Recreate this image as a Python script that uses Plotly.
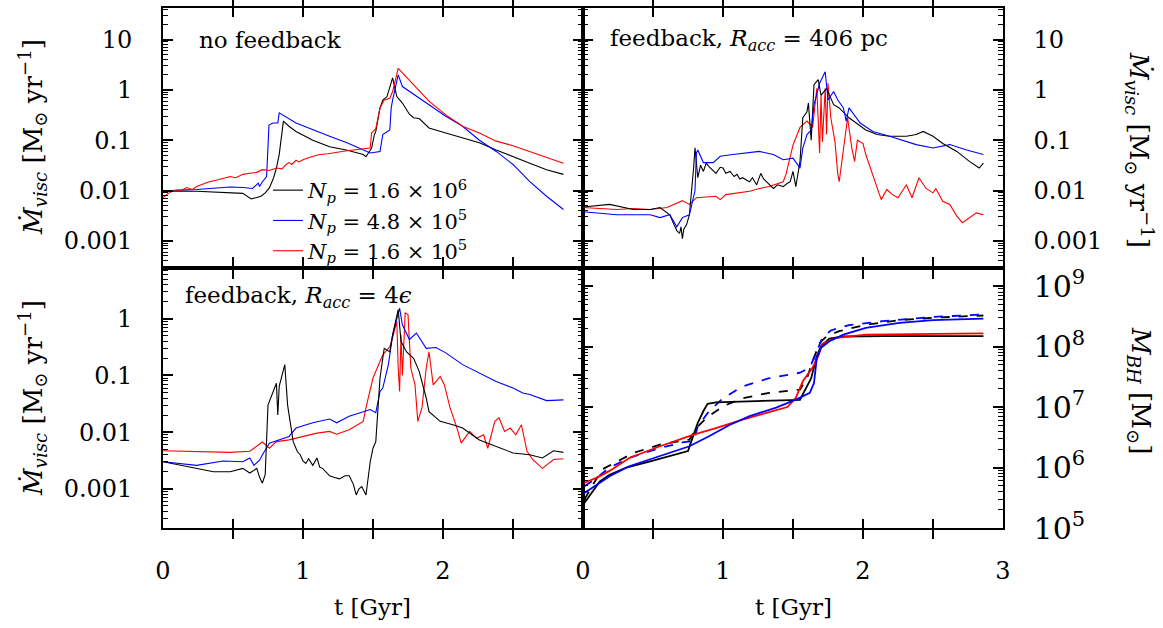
import plotly.graph_objects as go

# ---------------- Panel A: no feedback ----------------
tA_k = [0.0, 0.1, 0.24, 0.38, 0.48, 0.57, 0.63, 0.66, 0.7, 0.73, 0.76, 0.79, 0.81, 0.83, 0.86, 0.9, 0.95, 1.07, 1.19, 1.31, 1.43, 1.45, 1.49, 1.51, 1.52, 1.55, 1.57, 1.6, 1.64, 1.67, 1.71, 1.76, 1.79, 1.83, 1.9, 2.02, 2.14, 2.26, 2.38, 2.5, 2.62, 2.74, 2.86]
vA_k = [0.0095, 0.0098, 0.0097, 0.0092, 0.0089, 0.0088, 0.0068, 0.0072, 0.0077, 0.009, 0.0113, 0.018, 0.028, 0.052, 0.24, 0.19, 0.15, 0.1, 0.074, 0.064, 0.052, 0.047, 0.07, 0.129, 0.15, 0.44, 0.63, 0.74, 1.74, 0.74, 0.55, 0.33, 0.28, 0.27, 0.176, 0.14, 0.111, 0.089, 0.064, 0.048, 0.035, 0.026, 0.021]

tA_b = [0.0, 0.1, 0.24, 0.36, 0.48, 0.57, 0.64, 0.68, 0.69, 0.71, 0.74, 0.757, 0.786, 0.82, 0.825, 0.83, 0.95, 1.07, 1.19, 1.31, 1.43, 1.48, 1.55, 1.57, 1.62, 1.63, 1.64, 1.68, 1.71, 1.81, 1.9, 2.02, 2.14, 2.26, 2.38, 2.5, 2.62, 2.74, 2.86]
vA_b = [0.0095, 0.0102, 0.0105, 0.0112, 0.0118, 0.0115, 0.011, 0.014, 0.012, 0.015, 0.019, 0.2, 0.22, 0.22, 0.35, 0.35, 0.22, 0.16, 0.12, 0.09, 0.064, 0.056, 0.06, 0.13, 0.16, 0.44, 0.63, 2.0, 1.17, 0.74, 0.51, 0.3, 0.19, 0.1, 0.06, 0.033, 0.015, 0.0077, 0.0042]

tA_r = [0.0, 0.03, 0.07, 0.12, 0.17, 0.21, 0.24, 0.29, 0.33, 0.38, 0.43, 0.48, 0.52, 0.57, 0.62, 0.67, 0.71, 0.76, 0.81, 0.85, 0.88, 0.9, 0.92, 0.95, 0.97, 1.0, 1.05, 1.12, 1.18, 1.24, 1.3, 1.36, 1.42, 1.48, 1.49, 1.52, 1.55, 1.58, 1.62, 1.64, 1.68, 1.79, 1.9, 2.02, 2.14, 2.26, 2.38, 2.5, 2.62, 2.74, 2.86]
vA_r = [0.0072, 0.0085, 0.010, 0.0098, 0.0115, 0.0105, 0.012, 0.0135, 0.015, 0.016, 0.0175, 0.019, 0.018, 0.021, 0.022, 0.023, 0.026, 0.025, 0.028, 0.027, 0.033, 0.036, 0.033, 0.040, 0.037, 0.041, 0.046, 0.052, 0.054, 0.058, 0.061, 0.064, 0.067, 0.070, 0.14, 0.17, 0.44, 0.63, 0.68, 0.93, 2.7, 1.25, 0.6, 0.32, 0.19, 0.14, 0.096, 0.078, 0.06, 0.046, 0.035]

# ---------------- Panel B: feedback, R_acc = 406 pc ----------------
tB_k = [0.0, 0.19, 0.36, 0.48, 0.55, 0.62, 0.65, 0.67, 0.69, 0.7, 0.71, 0.72, 0.74, 0.76, 0.79, 0.8, 0.82, 0.84, 0.86, 0.88, 0.9, 0.92, 0.95, 0.98, 1.0, 1.02, 1.05, 1.08, 1.1, 1.12, 1.14, 1.17, 1.19, 1.21, 1.24, 1.27, 1.29, 1.31, 1.36, 1.39, 1.43, 1.46, 1.48, 1.5, 1.52, 1.55, 1.57, 1.6, 1.61, 1.63, 1.65, 1.68, 1.7, 1.74, 1.79, 1.83, 1.9, 2.02, 2.1, 2.19, 2.31, 2.38, 2.43, 2.5, 2.57, 2.67, 2.76, 2.83, 2.86]
vB_k = [0.0047, 0.0053, 0.0042, 0.0042, 0.0046, 0.0033, 0.0021, 0.0016, 0.0014, 0.0019, 0.0011, 0.0017, 0.0021, 0.0033, 0.028, 0.071, 0.018, 0.032, 0.024, 0.035, 0.030, 0.026, 0.022, 0.029, 0.028, 0.022, 0.024, 0.019, 0.021, 0.017, 0.018, 0.016, 0.015, 0.018, 0.013, 0.022, 0.017, 0.015, 0.011, 0.013, 0.012, 0.014, 0.015, 0.024, 0.012, 0.038, 0.28, 0.37, 0.55, 0.1, 1.27, 1.6, 0.78, 1.08, 0.51, 0.44, 0.28, 0.16, 0.13, 0.12, 0.12, 0.13, 0.15, 0.12, 0.086, 0.06, 0.038, 0.028, 0.035]

tB_b = [0.0, 0.24, 0.48, 0.55, 0.62, 0.67, 0.71, 0.76, 0.8, 0.81, 0.82, 0.86, 0.93, 0.98, 1.07, 1.19, 1.26, 1.36, 1.43, 1.5, 1.55, 1.57, 1.6, 1.63, 1.65, 1.69, 1.73, 1.75, 1.79, 1.82, 1.86, 1.88, 1.9, 1.98, 2.07, 2.19, 2.31, 2.38, 2.5, 2.62, 2.74, 2.86]
vB_b = [0.0038, 0.0033, 0.0033, 0.0029, 0.0033, 0.0019, 0.0029, 0.0033, 0.01, 0.056, 0.064, 0.036, 0.036, 0.048, 0.052, 0.056, 0.06, 0.052, 0.041, 0.044, 0.028, 0.07, 0.13, 0.16, 0.51, 1.36, 2.3, 0.63, 0.93, 0.63, 0.44, 0.24, 0.44, 0.22, 0.15, 0.12, 0.093, 0.082, 0.07, 0.082, 0.064, 0.052]

tB_r = [0.0, 0.24, 0.36, 0.48, 0.6, 0.67, 0.71, 0.76, 0.81, 0.95, 0.98, 1.02, 1.19, 1.26, 1.33, 1.43, 1.45, 1.5, 1.55, 1.6, 1.64, 1.67, 1.69, 1.7, 1.71, 1.73, 1.74, 1.75, 1.77, 1.8, 1.82, 1.83, 1.86, 1.88, 1.89, 1.92, 1.94, 1.96, 2.0, 2.02, 2.07, 2.13, 2.17, 2.21, 2.25, 2.31, 2.35, 2.4, 2.45, 2.5, 2.52, 2.57, 2.62, 2.67, 2.71, 2.76, 2.81, 2.86]
vB_r = [0.0046, 0.0042, 0.0044, 0.0042, 0.0046, 0.0057, 0.0063, 0.0053, 0.0072, 0.0077, 0.0066, 0.0083, 0.0097, 0.011, 0.012, 0.015, 0.021, 0.08, 0.18, 0.24, 0.18, 1.08, 0.056, 0.78, 0.093, 1.08, 0.13, 1.36, 0.28, 0.093, 0.021, 0.015, 0.07, 0.176, 0.28, 0.07, 0.038, 0.1, 0.086, 0.052, 0.021, 0.0066, 0.0105, 0.0083, 0.0072, 0.013, 0.0072, 0.018, 0.011, 0.009, 0.011, 0.0061, 0.0053, 0.0031, 0.0023, 0.0029, 0.0036, 0.0033]

# ---------------- Panel C: feedback, R_acc = 4 eps ----------------
tC_k = [0.0, 0.24, 0.36, 0.48, 0.57, 0.62, 0.67, 0.69, 0.71, 0.73, 0.75, 0.81, 0.82, 0.83, 0.87, 0.89, 0.93, 0.96, 0.98, 1.0, 1.02, 1.04, 1.07, 1.1, 1.12, 1.14, 1.17, 1.19, 1.22, 1.26, 1.3, 1.33, 1.36, 1.38, 1.4, 1.42, 1.45, 1.48, 1.5, 1.52, 1.55, 1.58, 1.62, 1.64, 1.68, 1.7, 1.74, 1.79, 1.83, 1.88, 1.9, 1.98, 2.07, 2.14, 2.26, 2.38, 2.5, 2.62, 2.71, 2.79, 2.86]
vC_k = [0.003, 0.0023, 0.002, 0.002, 0.0023, 0.0019, 0.0023, 0.0016, 0.00126, 0.0018, 0.03, 0.073, 0.02, 0.064, 0.155, 0.03, 0.0068, 0.0045, 0.004, 0.0031, 0.0028, 0.0034, 0.0026, 0.0035, 0.0024, 0.0023, 0.0019, 0.0017, 0.0016, 0.0015, 0.0017, 0.0017, 0.0012, 0.00078, 0.001, 0.0011, 0.00078, 0.003, 0.0052, 0.0068, 0.09, 0.3, 0.26, 0.52, 1.44, 0.4, 0.26, 0.2, 0.118, 0.04, 0.023, 0.0155, 0.0135, 0.0118, 0.0073, 0.0056, 0.0043, 0.004, 0.0035, 0.0047, 0.0044]

tC_b = [0.0, 0.24, 0.43, 0.57, 0.62, 0.65, 0.69, 0.71, 0.76, 0.83, 0.9, 0.95, 1.07, 1.19, 1.24, 1.33, 1.43, 1.48, 1.52, 1.55, 1.57, 1.61, 1.64, 1.69, 1.71, 1.76, 1.81, 1.88, 1.95, 2.02, 2.14, 2.26, 2.38, 2.5, 2.57, 2.62, 2.74, 2.86]
vC_b = [0.003, 0.0026, 0.0031, 0.003, 0.0035, 0.0026, 0.0032, 0.004, 0.0064, 0.0073, 0.0084, 0.0118, 0.0146, 0.017, 0.0146, 0.019, 0.023, 0.025, 0.022, 0.052, 0.06, 0.155, 0.52, 1.54, 0.78, 0.43, 0.56, 0.3, 0.31, 0.25, 0.155, 0.11, 0.078, 0.06, 0.049, 0.046, 0.036, 0.037]

tC_r = [0.0, 0.24, 0.48, 0.62, 0.71, 0.76, 0.81, 0.9, 1.0, 1.1, 1.19, 1.24, 1.33, 1.43, 1.45, 1.5, 1.57, 1.62, 1.64, 1.67, 1.68, 1.69, 1.7, 1.71, 1.73, 1.75, 1.77, 1.8, 1.82, 1.85, 1.88, 1.9, 1.93, 1.98, 2.01, 2.05, 2.1, 2.13, 2.19, 2.24, 2.29, 2.32, 2.37, 2.4, 2.44, 2.48, 2.52, 2.56, 2.6, 2.64, 2.71, 2.79, 2.86]
vC_r = [0.0047, 0.0046, 0.0044, 0.0046, 0.0067, 0.0052, 0.0068, 0.0073, 0.0084, 0.0096, 0.0103, 0.0092, 0.011, 0.0155, 0.027, 0.09, 0.23, 0.32, 0.46, 0.9, 0.135, 0.052, 0.52, 0.1, 1.26, 1.18, 0.135, 0.068, 0.0155, 0.027, 0.135, 0.26, 0.068, 0.096, 0.068, 0.027, 0.0118, 0.0064, 0.0103, 0.0078, 0.009, 0.0052, 0.0155, 0.018, 0.0103, 0.0118, 0.009, 0.0135, 0.0046, 0.0033, 0.0023, 0.0033, 0.0034]

# ---------------- Panel D: black hole mass ----------------
tD_k = [0.01, 0.07, 0.12, 0.19, 0.31, 0.48, 0.62, 0.75, 0.79, 0.82, 0.86, 0.89, 0.95, 1.19, 1.55, 1.58, 1.63, 1.67, 1.7, 1.76, 1.86, 2.14, 2.86]
vD_k = [2.6e5, 4.1e5, 5.9e5, 7.6e5, 1.0e6, 1.26e6, 1.55e6, 1.87e6, 3.5e6, 5.5e6, 8.6e6, 1.13e7, 1.2e7, 1.25e7, 1.32e7, 1.8e7, 3.0e7, 6.9e7, 1.02e8, 1.35e8, 1.47e8, 1.49e8, 1.49e8]

tD_r = [0.01, 0.1, 0.19, 0.33, 0.55, 0.79, 0.95, 1.14, 1.31, 1.46, 1.52, 1.57, 1.64, 1.68, 1.71, 1.81, 2.02, 2.86]
vD_r = [5.6e5, 6.8e5, 8.8e5, 1.44e6, 2.25e6, 3.5e6, 4.5e6, 6.2e6, 8.0e6, 1.0e7, 1.42e7, 2.67e7, 4.5e7, 6.9e7, 1.12e8, 1.4e8, 1.58e8, 1.65e8]

tD_b = [0.01, 0.1, 0.19, 0.33, 0.55, 0.76, 0.9, 1.05, 1.19, 1.38, 1.52, 1.62, 1.65, 1.67, 1.7, 1.76, 1.86, 2.02, 2.26, 2.5, 2.86]
vD_b = [3.8e5, 5.3e5, 7.2e5, 1.05e6, 1.55e6, 2.25e6, 3.3e6, 5.1e6, 7.1e6, 9.8e6, 1.33e7, 1.72e7, 2.5e7, 6.5e7, 9.6e7, 1.23e8, 1.58e8, 2.04e8, 2.46e8, 2.74e8, 2.9e8]

tD_kd = [0.01, 0.07, 0.14, 0.24, 0.36, 0.55, 0.76, 0.81, 0.88, 1.0, 1.14, 1.33, 1.55, 1.6, 1.64, 1.69, 1.74, 1.83, 2.02, 2.26, 2.5, 2.86]
vD_kd = [2.95e5, 5.2e5, 9.4e5, 1.26e6, 1.74e6, 2.4e6, 2.9e6, 4.5e6, 6.6e6, 1.03e7, 1.4e7, 1.72e7, 1.95e7, 3.0e7, 5.7e7, 1.15e8, 1.48e8, 1.8e8, 2.3e8, 2.74e8, 3.0e8, 3.27e8]

tD_bd = [0.01, 0.1, 0.19, 0.33, 0.55, 0.71, 0.79, 0.82, 0.9, 1.0, 1.14, 1.33, 1.55, 1.62, 1.67, 1.71, 1.77, 1.9, 2.14, 2.5, 2.86]
vD_bd = [4.9e5, 6.8e5, 1.0e6, 1.44e6, 2.1e6, 2.6e6, 2.75e6, 4.8e6, 8.5e6, 1.4e7, 2.2e7, 3.0e7, 3.7e7, 4.5e7, 8.4e7, 1.4e8, 1.85e8, 2.27e8, 2.63e8, 3.1e8, 3.4e8]

legend_labels = ["<i>N</i><sub><i>p</i></sub> = 1.6 × 10<sup>6</sup>",
                 "<i>N</i><sub><i>p</i></sub> = 4.8 × 10<sup>5</sup>",
                 "<i>N</i><sub><i>p</i></sub> = 1.6 × 10<sup>5</sup>"]

BLACK, BLUE, RED = "#000000", "#0000ff", "#ff0000"
FONT = "DejaVu Serif"

fig = go.Figure()

def add(x, y, color, xa, ya, width=1.1, dash="solid", name=None, show=False):
    fig.add_trace(go.Scatter(x=x, y=y, mode="lines", xaxis=xa, yaxis=ya,
                             line=dict(color=color, width=width, dash=dash),
                             name=name, showlegend=show))

add(tA_k, vA_k, BLACK, "x", "y", name=legend_labels[0], show=True)
add(tA_b, vA_b, BLUE, "x", "y", name=legend_labels[1], show=True)
add(tA_r, vA_r, RED, "x", "y", name=legend_labels[2], show=True)

add(tB_r, vB_r, RED, "x2", "y2")
add(tB_k, vB_k, BLACK, "x2", "y2")
add(tB_b, vB_b, BLUE, "x2", "y2")

add(tC_r, vC_r, RED, "x3", "y3")
add(tC_b, vC_b, BLUE, "x3", "y3")
add(tC_k, vC_k, BLACK, "x3", "y3")

add(tD_kd, vD_kd, BLACK, "x4", "y4", width=1.8, dash="dash")
add(tD_bd, vD_bd, BLUE, "x4", "y4", width=1.8, dash="dash")
add(tD_k, vD_k, BLACK, "x4", "y4", width=1.8)
add(tD_r, vD_r, RED, "x4", "y4", width=1.8)
add(tD_b, vD_b, BLUE, "x4", "y4", width=1.8)

# empty carriers so the minor-tick overlay axes get drawn
for xa, ya in [("x", "y5"), ("x2", "y6"), ("x3", "y7"), ("x4", "y8")]:
    fig.add_trace(go.Scatter(x=[None], y=[None], mode="lines", xaxis=xa, yaxis=ya,
                             showlegend=False, hoverinfo="skip"))

W, H = 1163, 628
xl = [163 / W, 583 / W]
xr = [583 / W, 1003 / W]
yt = [1 - 268 / H, 1 - 8 / H]
yb = [1 - 528 / H, 1 - 268 / H]

tickfont = dict(family=FONT, size=24, color="black")

def xax(domain, anchor, labels):
    return dict(domain=domain, anchor=anchor, range=[0, 3], showgrid=False, zeroline=False,
                showline=True, linecolor="black", linewidth=1.6, mirror="allticks",
                ticks="inside", ticklen=9, tickwidth=1.6, tickcolor="black",
                tickmode="array", tickvals=[0, 0.5, 1, 1.5, 2, 2.5, 3], ticktext=labels,
                showticklabels=True, tickfont=tickfont, ticklabelstandoff=20,
                automargin=False)

def yax(domain, anchor, rng, side, expfmt):
    return dict(domain=domain, anchor=anchor, type="log", range=rng, showgrid=False, zeroline=False,
                showline=True, linecolor="black", linewidth=1.6, mirror="allticks",
                ticks="inside", ticklen=10, tickwidth=1.8, tickcolor="black",
                tickmode="linear", tick0=0, dtick=1, exponentformat=expfmt, showexponent="all",
                side=side, tickfont=tickfont, ticklabelstandoff=24, automargin=False)

def minor_vals(lo, hi):
    out = []
    for e in range(lo, hi + 1):
        for k in range(2, 10):
            out.append(k * 10.0 ** e)
    return out

def yminor(over, anchor, rng, side, lo, hi):
    # overlay axis that only carries the minor (2..9 x 10^n) ticks
    return dict(overlaying=over, anchor=anchor, type="log", range=rng, side=side,
                showgrid=False, zeroline=False, showline=True, linecolor="black", linewidth=1.6,
                mirror="allticks", ticks="inside", ticklen=5, tickwidth=1.4, tickcolor="black",
                tickmode="array", tickvals=minor_vals(lo, hi), showticklabels=False,
                automargin=False)

fig.update_layout(
    width=W, height=H, margin=dict(l=0, r=0, t=0, b=0, autoexpand=False),
    paper_bgcolor="white", plot_bgcolor="white",
    font=dict(family=FONT, size=23, color="black"),
    xaxis=xax(xl, "y", [""] * 7),
    yaxis=yax(yt, "x", [-3.54, 1.63], "left", "none"),
    xaxis2=xax(xr, "y2", [""] * 7),
    yaxis2=yax(yt, "x2", [-3.54, 1.63], "right", "none"),
    xaxis3=xax(xl, "y3", ["0", "", "1", "", "2", "", ""]),
    yaxis3=yax(yb, "x3", [-3.69, 0.894], "left", "none"),
    xaxis4=xax(xr, "y4", ["0", "", "1", "", "2", "", "3"]),
    yaxis4=yax(yb, "x4", [5, 9.3], "right", "power"),
    yaxis5=yminor("y", "x", [-3.54, 1.63], "left", -4, 1),
    yaxis6=yminor("y2", "x2", [-3.54, 1.63], "right", -4, 1),
    yaxis7=yminor("y3", "x3", [-3.69, 0.894], "left", -4, 0),
    yaxis8=yminor("y4", "x4", [5, 9.3], "right", 5, 9),
    legend=dict(x=268 / W, y=1 - 170 / H, xanchor="left", yanchor="top",
                bgcolor="rgba(0,0,0,0)", borderwidth=0, tracegroupgap=0,
                font=dict(family=FONT, size=21, color="black")),
)

mdot_title = "<i>Ṁ</i><sub><i>visc</i></sub> [M<sub>⊙</sub> yr<sup>−1</sup>]"
ann = [
    dict(text="no feedback", x=197 / W, y=1 - 40 / H, xanchor="left", yanchor="middle", textangle=0, size=23),
    dict(text="feedback, <i>R</i><sub><i>acc</i></sub> = 406 pc", x=608 / W, y=1 - 40 / H, xanchor="left", yanchor="middle", textangle=0, size=23),
    dict(text="feedback, <i>R</i><sub><i>acc</i></sub> = 4<i>ϵ</i>", x=183 / W, y=1 - 297 / H, xanchor="left", yanchor="middle", textangle=0, size=23),
    dict(text=mdot_title, x=32 / W, y=1 - 137 / H, xanchor="center", yanchor="middle", textangle=-90, size=26),
    dict(text=mdot_title, x=32 / W, y=1 - 398 / H, xanchor="center", yanchor="middle", textangle=-90, size=26),
    dict(text=mdot_title, x=1140 / W, y=1 - 150 / H, xanchor="center", yanchor="middle", textangle=90, size=26),
    dict(text="<i>M</i><sub><i>BH</i></sub> [M<sub>⊙</sub>]", x=1140 / W, y=1 - 390 / H, xanchor="center", yanchor="middle", textangle=90, size=26),
    dict(text="t [Gyr]", x=373 / W, y=1 - 607 / H, xanchor="center", yanchor="middle", textangle=0, size=23),
    dict(text="t [Gyr]", x=793 / W, y=1 - 607 / H, xanchor="center", yanchor="middle", textangle=0, size=23),
]
for a in ann:
    s = a.pop("size")
    a.update(xref="paper", yref="paper", showarrow=False, font=dict(family=FONT, size=s, color="black"))
fig.update_layout(annotations=ann)

fig.write_html("out.html")
